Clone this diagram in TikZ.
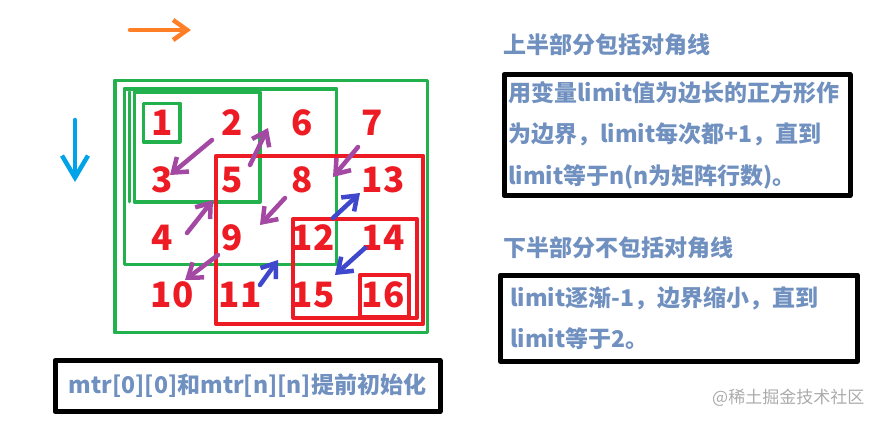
\documentclass[tikz,border=0pt]{standalone}
\usepackage{fontspec}
\setmainfont{Noto Sans CJK SC}
\usepackage{tikz}
\usetikzlibrary{arrows.meta,calc}
\definecolor{mgreen}{HTML}{22B14C}
\definecolor{mred}{HTML}{ED1C24}
\definecolor{mpurple}{HTML}{A349A4}
\definecolor{mblue}{HTML}{3F48CC}
\definecolor{morange}{HTML}{FF7F27}
\definecolor{msky}{HTML}{00A2E8}
\definecolor{mtext}{HTML}{7090C0}
\definecolor{mgray}{HTML}{ABABAB}

\begin{document}
\begin{tikzpicture}[x=1pt,y=-1pt,>={Straight Barb[length=13pt,width=19pt]},line cap=round,line join=round]
\tikzstyle{num} = [font = \fontsize{35}{35}\selectfont\bfseries, text = mred, inner sep = 0pt]
\tikzstyle{gbox} = [draw = mgreen, line width = 3.6pt]
\tikzstyle{rbox} = [draw = mred, line width = 4pt]
\tikzstyle{zigp} = [->, draw = mpurple, line width = 4.5pt]
\tikzstyle{zigb} = [->, draw = mblue, line width = 4.5pt]
\tikzstyle{head} = [font = \fontsize{23}{23}\selectfont\bfseries, text = mtext, inner sep = 0pt, anchor = west]
\tikzstyle{textbox} = [draw, line width = 5pt, font = \fontsize{23}{41.5}\selectfont\bfseries, text = mtext, align = left]
\useasboundingbox (0,0) rectangle (886,421);
	% matrix boxes
	\draw[gbox] (114.7,80.5) rectangle (427.3,332.5);
	\draw[gbox] (124.3,88.7) rectangle (336.5,264.3);
	\draw[gbox] (129.5,92) -- (129.5,201.7);
	\draw[gbox] (134.5,92) rectangle (260,201.7);
	\draw[gbox] (143.3,103.3) rectangle (180,141.7);
	\draw[rbox] (216.3,155.7) rectangle (423.3,324);
	\draw[rbox] (293.3,218.7) rectangle (416.7,317.5);
	\draw[rbox] (360.3,274.7) rectangle (408.7,317);
	% numbers
	\foreach \v/\x/\y in {1/162/123, 2/232/123, 6/302/123, 7/372/123,
		3/162/180, 5/232/180, 8/302/180, 13/383/180,
		4/162/238, 9/232/238, 12/313/238, 14/383/238,
		10/172/295, 11/240/295, 15/313/295, 16/383/295}
		\node[num] (n\v) at (\x,\y) {\v};
	% traversal
	\foreach \a/\b/\sx/\sy/\ex/\ey in {2/3/-20/17/8/-5, 5/6/18/-15/-34/5,
		7/8/-14/24/31/-3, 4/5/25/-5/-19/20, 8/9/-17/18/28/-13, 9/10/-14/17/13/-15}
		\draw[zigp] ($(n\a)+(\sx,\sy)$) -- ($(n\b)+(\ex,\ey)$);
	\foreach \a/\b/\sx/\sy/\ex/\ey in {11/12/20/-10/-35/22, 12/13/20/-20/-23/13,
		14/15/-18/10/22/-20}
		\draw[zigb] ($(n\a)+(\sx,\sy)$) -- ($(n\b)+(\ex,\ey)$);
	% directions
	\coordinate (colstart) at (130,30);
	\coordinate (colend) at (191,30);
	\draw[->, >={Straight Barb[length=14pt,width=20pt]}, draw = morange, line width = 4.5pt] (colstart) -- (colend);
	\coordinate (rowstart) at (75,120);
	\coordinate (rowend) at (75,182);
	\draw[->, >={Straight Barb[length=22pt,width=26pt]}, draw = msky, line width = 4.5pt] (rowstart) -- (rowend);
	% notes
	\node[head] (uphead) at (503,45) {上半部分包括对角线};
	\node[textbox, minimum width = 346pt, minimum height = 121pt, text width = 338pt] (upbox) at (677,135)
		{用变量limit值为边长的正方形作\\为边界，limit每次都+1，直到\\limit等于n(n为矩阵行数)。};
	\node[head] (downhead) at (503,248) {下半部分不包括对角线};
	\node[textbox, minimum width = 357pt, minimum height = 86.5pt, text width = 338pt] (downbox) at (679,318.25)
		{limit逐渐-1，边界缩小，直到\\limit等于2。};
	\node[textbox, minimum width = 385pt, minimum height = 51pt] (initbox) at (247.5,386)
		{mtr[0][0]和mtr[n][n]提前初始化};
	\node[font = \fontsize{17}{17}\selectfont, text = mgray, inner sep = 0pt, anchor = west] (mark) at (712,397.5) {@稀土掘金技术社区};
\end{tikzpicture}
\end{document}
